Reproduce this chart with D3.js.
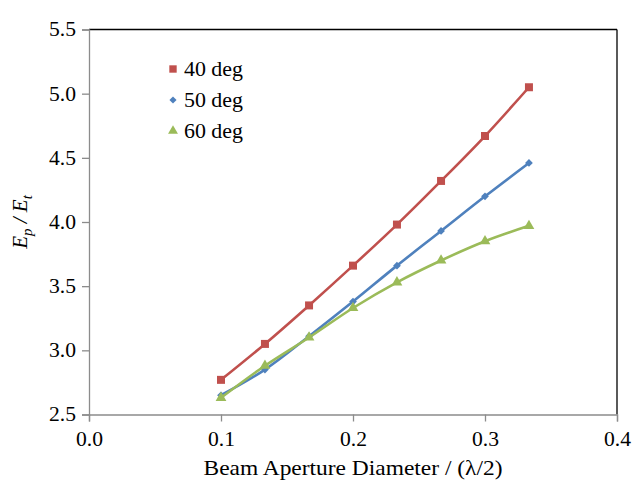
<!DOCTYPE html>
<html>
<head>
<meta charset="utf-8">
<script src="https://cdn.jsdelivr.net/npm/d3@7"></script>
<style>
  html, body { margin: 0; padding: 0; background: #fff; }
  svg { display: block; }
  svg text { font-family: 'Liberation Serif', 'DejaVu Serif', serif; }
</style>
</head>
<body>
<svg id="chart" width="633" height="480"></svg>
<script>
// Beam aperture diameter, in units of lambda/2
const apertures = [0.1, 0.1333, 0.1667, 0.2, 0.2333, 0.2667, 0.3, 0.3333];
// E_p / E_t for each incidence angle
const deg40 = [2.77, 3.05, 3.35, 3.66, 3.98, 4.32, 4.67, 5.05];
const deg50 = [2.65, 2.85, 3.11, 3.38, 3.66, 3.93, 4.20, 4.46];
const deg60 = [2.63, 2.88, 3.10, 3.33, 3.53, 3.70, 3.85, 3.97];
const seriesNames = ["40 deg", "50 deg", "60 deg"];
const xTicks = [0.0, 0.1, 0.2, 0.3, 0.4];
const yTicks = [2.5, 3.0, 3.5, 4.0, 4.5, 5.0, 5.5];

const FONT = "'Liberation Serif', 'DejaVu Serif', serif";

// marker: symbol type, area and rotation (a square turned 45 degrees gives an even diamond)
const series = [
  { name: seriesNames[0], values: deg40, color: "#C0504D", symbol: d3.symbolSquare, size: 64, rot: 0 },
  { name: seriesNames[1], values: deg50, color: "#4F81BD", symbol: d3.symbolSquare, size: 30, rot: 45 },
  { name: seriesNames[2], values: deg60, color: "#9BBB59", symbol: d3.symbolTriangle, size: 50, rot: 0 }
];

const svg = d3.select("#chart").attr("font-family", FONT);
const plotLeft = 89, plotRight = 617, plotTop = 29.5, plotBottom = 414.5;

const x = d3.scaleLinear().domain([0, 0.4]).range([plotLeft, plotRight]);
const y = d3.scaleLinear().domain([2.5, 5.5]).range([plotBottom, plotTop]);

// frame: top and right edges
svg.append("line").attr("x1", plotLeft).attr("x2", plotRight).attr("y1", plotTop).attr("y2", plotTop)
  .attr("stroke", "#000").attr("stroke-width", 1.3);
svg.append("line").attr("x1", plotRight).attr("x2", plotRight).attr("y1", plotTop).attr("y2", plotBottom)
  .attr("stroke", "#000").attr("stroke-width", 1.3);

// axes
const xAxis = d3.axisBottom(x).tickValues(xTicks).tickFormat(d3.format(".1f")).tickSizeOuter(0).tickSize(7).tickPadding(10);
const yAxis = d3.axisLeft(y).tickValues(yTicks).tickFormat(d3.format(".1f")).tickSizeOuter(0).tickSize(7).tickPadding(6);

const gx = svg.append("g").attr("transform", `translate(0,${plotBottom})`).call(xAxis);
const gy = svg.append("g").attr("transform", `translate(${plotLeft},0)`).call(yAxis);
[gx, gy].forEach(g => {
  g.attr("font-family", FONT).attr("font-size", 20);
  g.select(".domain").attr("stroke", "#8c8c8c").attr("stroke-width", 1.3);
  g.selectAll(".tick line").attr("stroke", "#8c8c8c").attr("stroke-width", 1.3);
  g.selectAll(".tick text").attr("fill", "#000")
    .attr("textLength", 27).attr("lengthAdjust", "spacingAndGlyphs");
});

// series lines and markers
const line = d3.line()
  .x((d, i) => x(apertures[i]))
  .y(d => y(d))
  .curve(d3.curveCatmullRom.alpha(0.5));

series.forEach(s => {
  svg.append("path").datum(s.values)
    .attr("d", line)
    .attr("fill", "none")
    .attr("stroke", s.color)
    .attr("stroke-width", 2.6);
  svg.append("g").selectAll("path").data(s.values).join("path")
    .attr("transform", (d, i) => `translate(${x(apertures[i])},${y(d)}) rotate(${s.rot})`)
    .attr("d", d3.symbol().type(s.symbol).size(s.size))
    .attr("fill", s.color);
});

// legend
const legend = svg.append("g").attr("transform", "translate(173,69)");
series.forEach((s, i) => {
  const row = legend.append("g").attr("transform", `translate(0,${i * 31})`);
  row.append("path")
    .attr("transform", `rotate(${s.rot})`)
    .attr("d", d3.symbol().type(s.symbol).size(s.size * 0.85)).attr("fill", s.color);
  row.append("text").attr("x", 11).attr("y", 7)
    .attr("font-size", 21)
    .attr("textLength", 59).attr("lengthAdjust", "spacingAndGlyphs")
    .text(s.name);
});

// axis titles
svg.append("text")
  .attr("x", (plotLeft + plotRight) / 2).attr("y", 475)
  .attr("text-anchor", "middle")
  .attr("font-size", 21)
  .attr("textLength", 299).attr("lengthAdjust", "spacingAndGlyphs")
  .text("Beam Aperture Diameter / (\u03BB/2)");

const yt = svg.append("text")
  .attr("transform", `translate(27,${(plotTop + plotBottom) / 2}) rotate(-90)`)
  .attr("text-anchor", "middle")
  .attr("font-size", 21)
  .attr("font-style", "italic");
yt.append("tspan").text("E");
yt.append("tspan").attr("dy", 5).attr("font-size", 15).text("p");
yt.append("tspan").attr("dy", -5).text(" / E");
yt.append("tspan").attr("dy", 5).attr("font-size", 15).text("t");
</script>
</body>
</html>
